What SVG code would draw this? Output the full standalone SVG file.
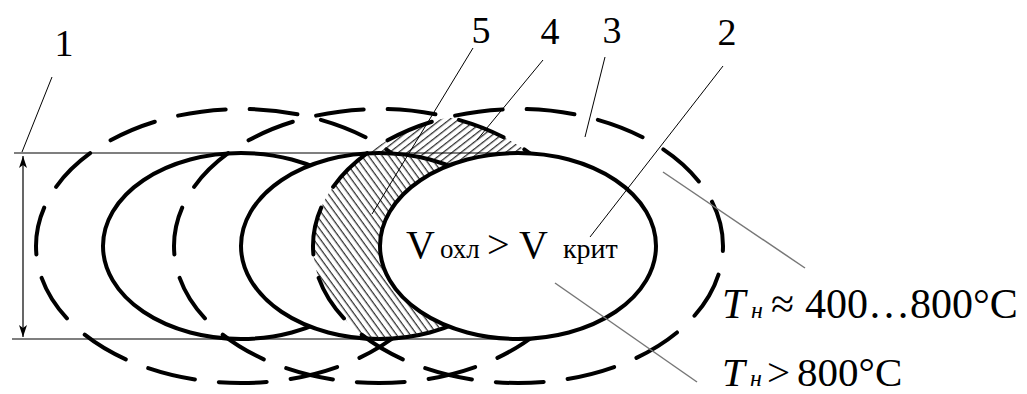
<svg xmlns="http://www.w3.org/2000/svg" width="1027" height="394" viewBox="0 0 1027 394">
<style>
.dash{fill:none;stroke:#000;stroke-width:4;stroke-dasharray:48 24.1;stroke-dashoffset:43;stroke-linecap:round}
.solid{fill:#fff;stroke:#000;stroke-width:4}
.thin{fill:none;stroke:#000;stroke-width:1.2}
.lead{fill:none;stroke:#000;stroke-width:1}
.gray{fill:none;stroke:#777;stroke-width:1.5}
text{font-family:'Liberation Serif','DejaVu Serif','Times New Roman',serif;fill:#000}
</style>
<defs>
<pattern id="h5" patternUnits="userSpaceOnUse" width="20" height="5.5" patternTransform="rotate(54)"><path d="M0 2.5H20" stroke="#111" stroke-width="1.1"/></pattern>
<pattern id="h4" patternUnits="userSpaceOnUse" width="20" height="5.5" patternTransform="rotate(-38)"><path d="M0 2.5H20" stroke="#111" stroke-width="1.1"/></pattern>
<clipPath id="cMidDash"><ellipse cx="379" cy="246" rx="205" ry="137"/></clipPath>
<clipPath id="cRightDash"><ellipse cx="518" cy="246" rx="205" ry="137"/></clipPath>
<clipPath id="cMidSolid"><ellipse cx="379" cy="246" rx="138" ry="93"/></clipPath>
<clipPath id="cTop"><rect x="0" y="0" width="1027" height="200"/></clipPath>
<marker id="ah" viewBox="0 0 12 8" refX="12" refY="4" markerWidth="12" markerHeight="8" markerUnits="userSpaceOnUse" orient="auto-start-reverse"><path d="M0 0L12 4L0 8L3 4Z" fill="#000"/></marker>
</defs>

<g id="zone-left">
<ellipse class="dash" cx="241" cy="246" rx="205" ry="137"/>
<ellipse class="solid" cx="241" cy="246" rx="138" ry="93"/>
</g>
<g id="zone-middle">
<ellipse class="dash" cx="379" cy="246" rx="205" ry="137"/>
<g id="hatch-4" clip-path="url(#cTop)"><g clip-path="url(#cMidDash)"><g clip-path="url(#cRightDash)"><rect x="300" y="100" width="300" height="100" fill="url(#h4)"/></g></g></g>
<ellipse class="solid" cx="379" cy="246" rx="138" ry="93"/>
<g id="hatch-5" clip-path="url(#cMidSolid)"><g clip-path="url(#cRightDash)"><rect x="300" y="150" width="200" height="195" fill="url(#h5)"/></g></g>
</g>
<g id="zone-right">
<ellipse class="dash" cx="518" cy="246" rx="205" ry="137"/>
<ellipse class="solid" cx="518" cy="246" rx="138" ry="93"/>
</g>

<g id="connectors">
<line class="thin" x1="14" y1="153" x2="522" y2="153"/>
<line class="thin" x1="12" y1="339" x2="530" y2="339"/>
<line class="thin" x1="23" y1="156" x2="23" y2="337" marker-start="url(#ah)" marker-end="url(#ah)"/>
<line class="lead" x1="52" y1="77" x2="22" y2="152"/>
<line class="lead" x1="473" y1="48" x2="372" y2="214"/>
<line class="lead" x1="543" y1="60" x2="477" y2="140"/>
<line class="lead" x1="605" y1="57" x2="585" y2="137"/>
<line class="lead" x1="723" y1="66" x2="590" y2="237"/>
<line class="gray" x1="663" y1="172" x2="805" y2="268"/>
<line class="gray" x1="555" y1="283" x2="697" y2="382"/>
</g>

<g id="labels">
<text font-family="Liberation Serif, DejaVu Serif, serif" x="64" y="56" font-size="38" text-anchor="middle">1</text>
<text font-family="Liberation Serif, DejaVu Serif, serif" x="481" y="43" font-size="38" text-anchor="middle">5</text>
<text font-family="Liberation Serif, DejaVu Serif, serif" x="550" y="44" font-size="38" text-anchor="middle">4</text>
<text font-family="Liberation Serif, DejaVu Serif, serif" x="612" y="43" font-size="38" text-anchor="middle">3</text>
<text font-family="Liberation Serif, DejaVu Serif, serif" x="727" y="45" font-size="38" text-anchor="middle">2</text>
</g>
<g id="label-v">
<text font-family="Liberation Serif, DejaVu Serif, serif" y="258"><tspan x="406" font-size="40">V</tspan><tspan x="440" font-size="27">охл</tspan><tspan x="487" font-size="40">&gt;</tspan><tspan x="519" font-size="40">V</tspan><tspan x="563" font-size="28">крит</tspan></text>
</g>
<g id="label-t1">
<text font-family="Liberation Serif, DejaVu Serif, serif" y="318"><tspan x="722" font-size="42" font-style="italic">T</tspan><tspan x="751" font-size="24" font-style="italic">н</tspan><tspan x="771" font-size="42">≈</tspan><tspan x="805" font-size="42">400…800°C</tspan></text>
</g>
<g id="label-t2">
<text font-family="Liberation Serif, DejaVu Serif, serif" y="386"><tspan x="722" font-size="41" font-style="italic">T</tspan><tspan x="750" font-size="24" font-style="italic">н</tspan><tspan x="767" font-size="41">&gt;</tspan><tspan x="797" font-size="41">800°C</tspan></text>
</g>
</svg>
